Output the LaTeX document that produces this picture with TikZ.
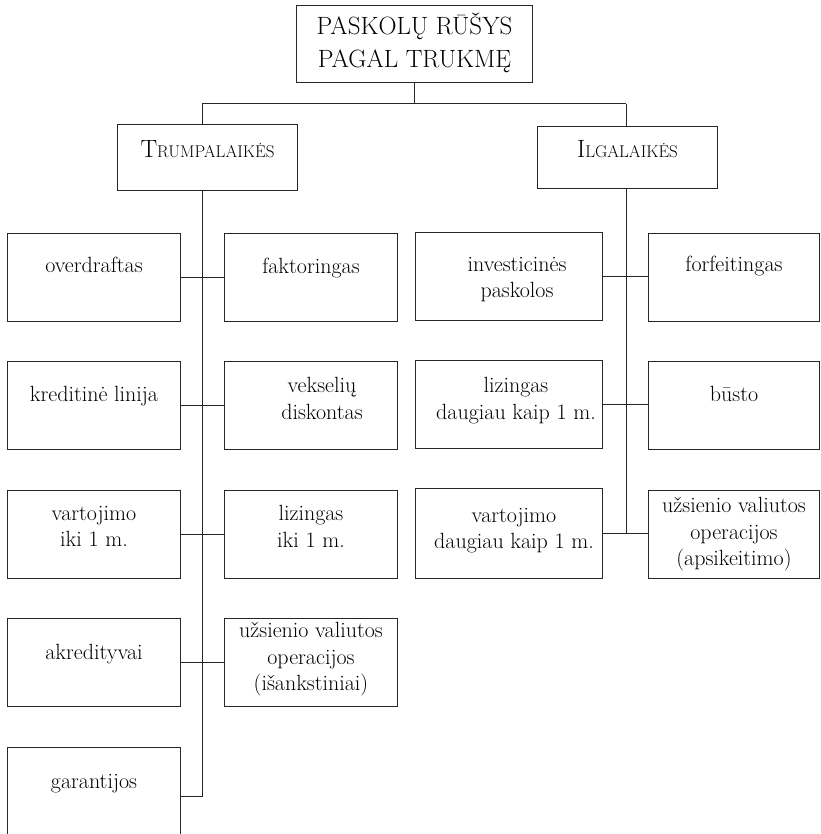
\documentclass[tikz,border=0pt]{standalone}
\newcommand{\fakesc}[2]{{\fontsize{25}{28}\selectfont #1}{\fontsize{17}{28}\selectfont #2}}
\begin{document}
\begin{tikzpicture}[x=1pt,y=-1pt,
  box/.style={draw=black!85, line width=1pt, inner sep=0pt, anchor=north west, minimum height=88pt},
  wa/.style={minimum width=173pt},
  wb/.style={minimum width=187pt},
  wc/.style={minimum width=171pt},
  txt/.style={align=center, inner sep=0pt, text=black, font=\fontsize{22}{26.5}\selectfont},
  one/.style={txt, text height=15pt, text depth=5pt},
  conn/.style={draw=black!85, line width=1pt}]
\useasboundingbox (0,0) rectangle (820,834);
\clip (0,0) rectangle (820,834);
% title and level-1 boxes
\node[box, minimum width=236pt, minimum height=77pt] (title) at (296,5) {};
\node[txt, font=\fontsize{25}{33}\selectfont] (titlet) at ([yshift=1pt]title.center) {PASKOLŲ RŪŠYS\\PAGAL TRUKMĘ};
\node[box, minimum width=180pt, minimum height=66pt] (tr) at (117,124) {};
\node[txt, anchor=base] (trt) at (tr.center) {\fakesc{T}{RUMPALAIKĖS}};
\node[box, minimum width=180pt, minimum height=62pt] (il) at (537,126) {};
\node[txt, anchor=base] (ilt) at (il.center) {\fakesc{I}{LGALAIKĖS}};
% left group, column 1
\node[box, wa] (ov) at (7,233) {};
\node[one] (ovt) at ([yshift=10pt]ov.center) {overdraftas};
\node[box, wa] (kr) at (7,361) {};
\node[one] (krt) at ([yshift=9pt]kr.center) {kreditinė linija};
\node[box, wa] (va) at (7,490) {};
\node[txt] (vat) at ([yshift=8pt]va.center) {vartojimo\\iki 1 m.};
\node[box, wa] (ak) at (7,618) {};
\node[one] (akt) at ([yshift=8pt]ak.center) {akredityvai};
\node[box, wa, minimum height=98pt] (ga) at (7,747) {};
\node[one] (gat) at ([yshift=13pt]ga.center) {garantijos};
% left group, column 2
\node[box, wa] (fa) at (224,233) {};
\node[one] (fat) at ([yshift=9pt]fa.center) {faktoringas};
\node[box, wa] (ve) at (224,361) {};
\node[txt] (vet) at ([xshift=11pt,yshift=7pt]ve.center) {vekselių\\diskontas};
\node[box, wa] (li) at (224,490) {};
\node[txt] (lit) at ([yshift=8pt]li.center) {lizingas\\iki 1 m.};
\node[box, wa] (uz) at (224,618) {};
\node[txt] (uzt) at ([yshift=3pt]uz.center) {užsienio valiutos\\operacijos\\(išankstiniai)};
% right group, column 1
\node[box, wb] (in) at (415,232) {};
\node[txt] (int) at ([xshift=8pt,yshift=-3pt]in.center) {investicinės\\paskolos};
\node[box, wb] (ld) at (415,360) {};
\node[txt] (ldt) at ([xshift=7pt,yshift=4pt]ld.center) {lizingas\\daugiau kaip 1 m.};
\node[box, wb, minimum height=90pt] (vd) at (415,488) {};
\node[txt] (vdt) at ([xshift=5pt,yshift=3pt]vd.center) {vartojimo\\daugiau kaip 1 m.};
% right group, column 2
\node[box, wc] (fo) at (648,233) {};
\node[one] (fot) at ([yshift=11pt]fo.center) {forfeitingas};
\node[box, wc] (bu) at (648,361) {};
\node[one] (but) at ([yshift=9pt]bu.center) {būsto};
\node[box, wc] (ua) at (648,490) {};
\node[txt] (uat) at (ua.center) {užsienio valiutos\\operacijos\\(apsikeitimo)};
% junctions
\coordinate (jL) at (202,104);
\coordinate (jR) at (626,104);
\coordinate (jT) at (title.south |- jL);
% connectors
\draw[conn] (title.south) -- (jT);
\draw[conn] (jL) -- (jR);
\draw[conn] (jL) -- (jL |- tr.north);
\draw[conn] (jR) -- (jR |- il.north);
\draw[conn] (jL |- tr.south) -- (jL |- ga.east) -- (ga.east);
\draw[conn] (ov.east) -- (ov.east -| fa.west);
\draw[conn] (kr.east) -- (kr.east -| ve.west);
\draw[conn] (va.east) -- (va.east -| li.west);
\draw[conn] (ak.east) -- (ak.east -| uz.west);
\draw[conn] (jR |- il.south) -- (jR |- vd.east);
\draw[conn] (in.east) -- (in.east -| fo.west);
\draw[conn] (ld.east) -- (ld.east -| bu.west);
\draw[conn] (vd.east) -- (vd.east -| ua.west);
\end{tikzpicture}
\end{document}
